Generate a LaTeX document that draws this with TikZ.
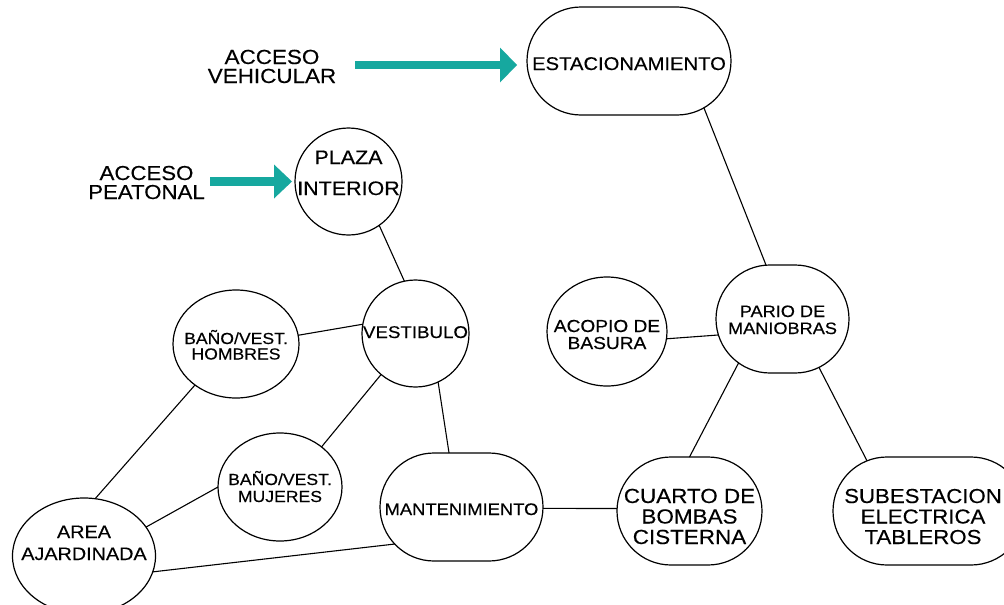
\documentclass[tikz,border=0pt]{standalone}
\usepackage{fontspec}
\setmainfont{Liberation Sans}[FakeStretch=1.1,FakeBold=0.3]
\usetikzlibrary{shapes.geometric,shapes.misc,arrows.meta}
\definecolor{flowteal}{RGB}{22,168,159}
% stacked centred lines: size, baselineskip, rows separated by \\
\newcommand\stk[3]{{\fontsize{#1pt}{#2pt}\selectfont\vtop{\lineskiplimit=-\maxdimen\let\\\cr\halign{\hfil##\hfil\cr#3\crcr}}}}
% zero-size label: [left shift x2], first baseline raised #2 above the shape centre
\newcommand\tx[5][0]{\raisebox{#2pt}[0pt][0pt]{\makebox[0pt]{\stk{#3}{#4}{#5}\kern#1pt}}}
\tikzset{
  shapeline/.style={draw=black, line width=1.2pt, inner sep=0pt, outer sep=0pt},
  oval/.style={shapeline, ellipse},
  pill/.style={shapeline, rounded rectangle},
  link/.style={draw=black, line width=1.1pt},
  flow/.style={draw=flowteal, line width=#1},
}
\begin{document}
\begin{tikzpicture}[x=1pt,y=-1pt]
\useasboundingbox (0,0) rectangle (1004,605);
\fill[white] (0,0) rectangle (1004,605);

% nodes
\node[pill, minimum width=204pt, minimum height=108pt] (estac) at (629,61) {\tx{-9}{18.4}{22}{ESTACIONAMIENTO}};
\node[oval, minimum width=107pt, minimum height=107pt] (plaza) at (348.5,181.5) {\tx{17.5}{19.5}{31}{PLAZA\\INTERIOR}};
\node[oval, minimum width=107pt, minimum height=107pt] (vest) at (415.5,333.5) {\tx{-4.5}{17}{20}{VESTIBULO}};
\node[oval, minimum width=126pt, minimum height=108pt] (hombres) at (236,344) {\tx{0}{16}{15.5}{BAÑO/VEST.\\HOMBRES}};
\node[oval, minimum width=124pt, minimum height=108pt] (mujeres) at (280,487) {\tx{2}{16}{17}{BAÑO/VEST.\\MUJERES}};
\node[oval, minimum width=143pt, minimum height=116pt] (area) at (84,556) {\tx{18}{18}{22}{AREA\\AJARDINADA}};
\node[pill, minimum width=163pt, minimum height=108pt] (mant) at (461.5,507) {\tx{-8}{16.7}{20}{MANTENIMIENTO}};
\node[oval, minimum width=120pt, minimum height=109pt] (acopio) at (607,331.5) {\tx{-0.5}{17.4}{17}{ACOPIO DE\\BASURA}};
\node[pill, minimum width=133pt, minimum height=108pt] (pario) at (782.5,319) {\tx{2}{16.5}{17}{PARIO DE\\MANIOBRAS}};
\node[pill, minimum width=145pt, minimum height=108pt] (cuarto) at (689.5,511) {\tx{8}{20.4}{20.5}{CUARTO DE\\BOMBAS\\CISTERNA}};
\node[pill, minimum width=192pt, minimum height=108pt] (sub) at (929,511) {\tx[12]{8}{20.2}{20.5}{SUBESTACION\\ELECTRICA\\TABLEROS}};

% access labels
\node[anchor=base, inner sep=0pt] (accveh) at (272,64) {\stk{20.4}{19}{ACCESO\\VEHICULAR}};
\node[anchor=base, inner sep=0pt] (accpea) at (146.5,180) {\stk{20.2}{19}{ACCESO\\PEATONAL}};

% access arrows
\coordinate (vstart) at (355,65);
\coordinate (pstart) at (210,181.5);
\draw[flow=8pt, -{Triangle[length=17pt,width=35pt,line width=0pt]}, shorten >=10pt] (vstart) -- (vstart -| estac.west);
\draw[flow=9pt, -{Triangle[length=18pt,width=34pt,line width=0pt]}, shorten >=3pt] (pstart) -- (pstart -| plaza.west);

% connectors
\draw[link] (plaza.-55) -- (vest.102);
\draw[link] (hombres.8) -- (vest.170);
\draw[link] (vest.230) -- (mujeres.44);
\draw[link] (vest.-65) -- (mant.103);
\draw[link] (mant.-1) -- (cuarto.178);
\draw[link] (area.-13.5) -- (mant.209);
\draw[link] (area.25) -- (mujeres.180);
\draw[link] (area.79) -- (hombres.225);
\draw[link] (estac.-32) -- (pario.107);
\draw[link] (acopio.-7) -- (pario.194);
\draw[link] (pario.225) -- (cuarto.90);
\draw[link] (pario.-53) -- (sub.141);
\end{tikzpicture}
\end{document}
